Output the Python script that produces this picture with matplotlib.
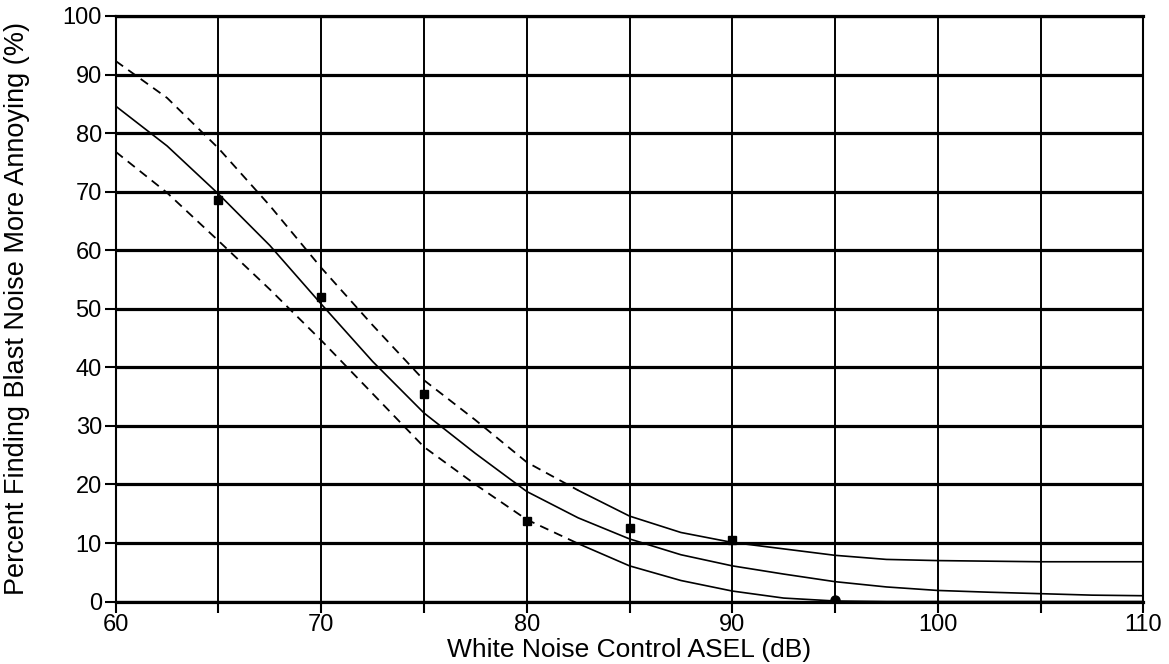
import matplotlib
matplotlib.use("Agg")
import matplotlib.pyplot as plt

plt.rcParams['font.family'] = ['Liberation Sans', 'DejaVu Sans']

# curve readings, every 2.5 dB
x_curve = [60, 62.5, 65, 67.5, 70, 72.5, 75, 77.5, 80, 82.5, 85, 87.5, 90,
           92.5, 95, 97.5, 100, 102.5, 105, 107.5, 110]
y_center = [84.6, 77.8, 69.6, 60.8, 50.8, 41.0, 32.2, 25.3, 18.8, 14.3, 10.7, 8.0, 6.1,
            4.7, 3.4, 2.5, 1.9, 1.6, 1.35, 1.1, 1.0]
y_upper = [92.3, 86.0, 77.4, 67.6, 57.0, 47.2, 37.8, 31.0, 23.8, 19.0, 14.6, 11.8, 10.1,
           9.0, 7.9, 7.2, 7.0, 6.9, 6.8, 6.8, 6.8]
y_lower = [76.8, 69.8, 61.6, 53.3, 44.6, 35.5, 26.4, 20.0, 14.0, 9.9, 6.1, 3.6, 1.8,
           0.6, 0.1, 0.0, 0.0, 0.0, 0.0, 0.0, 0.0]
n_dash = 10  # first 10 points of the bounds are dashed (up to 82.5)

# observed points
x_pts = [65, 70, 75, 80, 85, 90]
y_pts = [68.5, 52.0, 35.5, 13.8, 12.6, 10.6]
x_zero = [95]
y_zero = [0.3]

xticks = [60, 70, 80, 90, 100, 110]
yticks = [0, 10, 20, 30, 40, 50, 60, 70, 80, 90, 100]

fig = plt.figure(figsize=(11.69, 6.64), dpi=100)
ax = fig.add_axes([0.099, 0.094, 0.879, 0.882])

# grid
for yv in yticks:
    ax.axhline(yv, color='black', lw=2.3, zorder=1)
for xv in range(60, 111, 5):
    ax.axvline(xv, color='black', lw=1.4, zorder=1)

ax.plot(x_curve, y_center, color='black', lw=1.2, zorder=3)
ax.plot(x_curve[:n_dash], y_upper[:n_dash], color='black', lw=1.3, ls=(0, (5, 3.5)), zorder=3)
ax.plot(x_curve[n_dash - 1:], y_upper[n_dash - 1:], color='black', lw=1.2, zorder=3)
ax.plot(x_curve[:n_dash], y_lower[:n_dash], color='black', lw=1.3, ls=(0, (5, 3.5)), zorder=3)
ax.plot(x_curve[n_dash - 1:], y_lower[n_dash - 1:], color='black', lw=1.2, zorder=3)

ax.plot(x_pts, y_pts, 's', color='black', ms=6, zorder=4)
ax.plot(x_zero, y_zero, 'o', color='black', ms=6.5, zorder=4)

ax.set_xlim(60, 110)
ax.set_ylim(0, 100)
ax.set_xticks(range(60, 111, 5))
ax.set_xticklabels([str(v) if v in xticks else '' for v in range(60, 111, 5)])
ax.set_yticks(yticks)
ax.tick_params(axis='both', direction='out', length=8, width=1.5, labelsize=17, pad=2)
ax.tick_params(axis='x', pad=1)
for s in ax.spines.values():
    s.set_linewidth(1.5)
ax.spines['bottom'].set_linewidth(2.3)
ax.spines['top'].set_linewidth(2.3)

ax.set_xlabel('White Noise Control ASEL (dB)', fontsize=19)
ax.set_ylabel('Percent Finding Blast Noise More Annoying (%)', fontsize=19.5)
ax.xaxis.set_label_coords(0.5, -0.062)
ax.yaxis.set_label_coords(-0.083, 0.5)

fig.savefig('out.png', dpi=100)
